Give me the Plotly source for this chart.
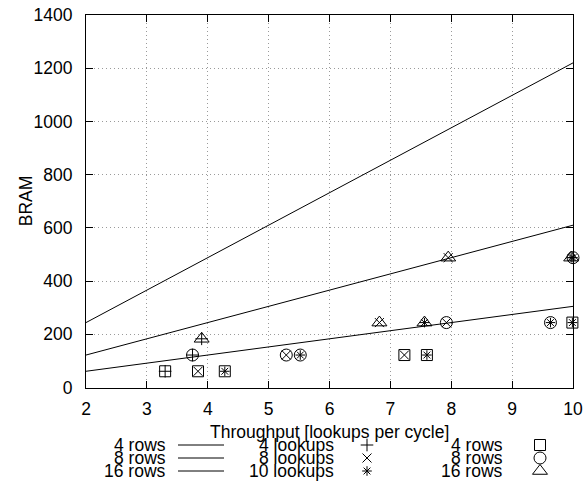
import plotly.graph_objects as go

# ---- data -----------------------------------------------------------------
# Reference lines: BRAM needed per unit of throughput for each row count
line_throughput = [2, 10]
line_4rows = [61, 305]
line_8rows = [122, 610]
line_16rows = [244, 1220]

# Measured design points
throughput = [3.30, 3.84, 4.28, 7.23, 7.60, 9.99,
              3.75, 5.29, 5.52, 7.92, 9.63, 10.0,
              3.90, 6.82, 7.56, 7.95, 9.97]
bram = [61, 61, 61, 122, 122, 244,
        122, 122, 122, 244, 244, 488,
        183, 244, 244, 488, 488]
rows = [4, 4, 4, 4, 4, 4,
        8, 8, 8, 8, 8, 8,
        16, 16, 16, 16, 16]
lookups = [4, 8, 10, 8, 10, 10,
           4, 8, 10, 8, 10, 10,
           4, 8, 10, 8, 10]

x_ticks = [2, 3, 4, 5, 6, 7, 8, 9, 10]
y_ticks = [0, 200, 400, 600, 800, 1000, 1200, 1400]

# ---- styling ----------------------------------------------------------------
W, H = 587, 483
L, R, T, B = 86, 573, 15, 387.5
FONT = "Liberation Sans, Arial, sans-serif"
FS = 17.5

row_symbol = {4: "square-open", 8: "circle-open", 16: "triangle-up-open"}
row_size = {4: 11, 8: 12, 16: 13}
lookup_symbol = {4: "cross-thin-open", 8: "x-thin-open", 10: "asterisk-open"}
lookup_size = {4: 9, 8: 9, 10: 8}

fig = go.Figure()

line_style = dict(color="black", width=1)
for ys in (line_4rows, line_8rows, line_16rows):
    fig.add_trace(go.Scatter(x=line_throughput, y=ys, mode="lines",
                             line=line_style, hoverinfo="skip"))

# outline shapes (row count)
for r in (4, 8, 16):
    xs = [x for x, rr in zip(throughput, rows) if rr == r]
    ys = [y for y, rr in zip(bram, rows) if rr == r]
    fig.add_trace(go.Scatter(
        x=xs, y=ys, mode="markers", cliponaxis=False,
        marker=dict(symbol=row_symbol[r], size=row_size[r], color="black",
                    line=dict(color="black", width=1))))

# inner glyphs (lookups)
for k in (4, 8, 10):
    xs = [x for x, kk in zip(throughput, lookups) if kk == k]
    ys = [y for y, kk in zip(bram, lookups) if kk == k]
    fig.add_trace(go.Scatter(
        x=xs, y=ys, mode="markers", cliponaxis=False,
        marker=dict(symbol=lookup_symbol[k], size=lookup_size[k], color="black",
                    line=dict(color="black", width=1))))

# ---- key below the axes (pixel coordinates on an overlay axis pair) ---------
key_rows_y = [445, 458, 471]
annotations = []

def key_text(x, y, text):
    annotations.append(dict(x=x, y=y, xref="x2", yref="y2", text=text,
                            showarrow=False, xanchor="right", yanchor="middle",
                            font=dict(family=FONT, size=FS, color="black")))

for y, label in zip(key_rows_y, ["4 rows", "8 rows", "16 rows"]):
    key_text(168, y, label)
    fig.add_trace(go.Scatter(x=[178, 224], y=[y, y], mode="lines",
                             line=line_style, xaxis="x2", yaxis="y2",
                             hoverinfo="skip"))

for y, k in zip(key_rows_y, (4, 8, 10)):
    key_text(336, y, f"{k} lookups")
    fig.add_trace(go.Scatter(x=[367], y=[y], mode="markers", xaxis="x2", yaxis="y2",
                             marker=dict(symbol=lookup_symbol[k], size=lookup_size[k],
                                         color="black",
                                         line=dict(color="black", width=1))))

for y, r in zip(key_rows_y, (4, 8, 16)):
    key_text(505, y, f"{r} rows")
    fig.add_trace(go.Scatter(x=[540], y=[y], mode="markers", xaxis="x2", yaxis="y2",
                             marker=dict(symbol=row_symbol[r], size=row_size[r],
                                         color="black",
                                         line=dict(color="black", width=1))))

# axis titles
annotations.append(dict(x=(L + R) / 2, y=432, xref="x2", yref="y2",
                        text="Throughput [lookups per cycle]", showarrow=False,
                        xanchor="center", yanchor="middle",
                        font=dict(family=FONT, size=FS, color="black")))
annotations.append(dict(x=26, y=(T + B) / 2, xref="x2", yref="y2", text="BRAM",
                        textangle=-90, showarrow=False,
                        xanchor="center", yanchor="middle",
                        font=dict(family=FONT, size=FS, color="black")))

axis_common = dict(showline=True, linecolor="black", linewidth=1, mirror="ticks",
                   ticks="inside", ticklen=7, tickcolor="black", tickwidth=1,
                   showgrid=True, gridcolor="#9a9a9a", gridwidth=1,
                   griddash="1px,3px", zeroline=False, automargin=False,
                   tickfont=dict(family=FONT, size=FS, color="black"))

fig.update_layout(
    width=W, height=H,
    margin=dict(l=0, r=0, t=0, b=0),
    paper_bgcolor="white", plot_bgcolor="rgba(0,0,0,0)",
    showlegend=False,
    annotations=annotations,
    xaxis=dict(domain=[L / W, R / W], range=[2, 10], tickvals=x_ticks,
               ticklabelstandoff=5, **axis_common),
    yaxis=dict(domain=[(H - B) / H, (H - T) / H], range=[0, 1400],
               tickvals=y_ticks, ticklabelstandoff=9, **axis_common),
    xaxis2=dict(domain=[0, 1], range=[0, W], visible=False, anchor="y2",
                fixedrange=True),
    yaxis2=dict(domain=[0, 1], range=[H, 0], visible=False, anchor="x2",
                fixedrange=True),
)

fig.write_html("out.html")
